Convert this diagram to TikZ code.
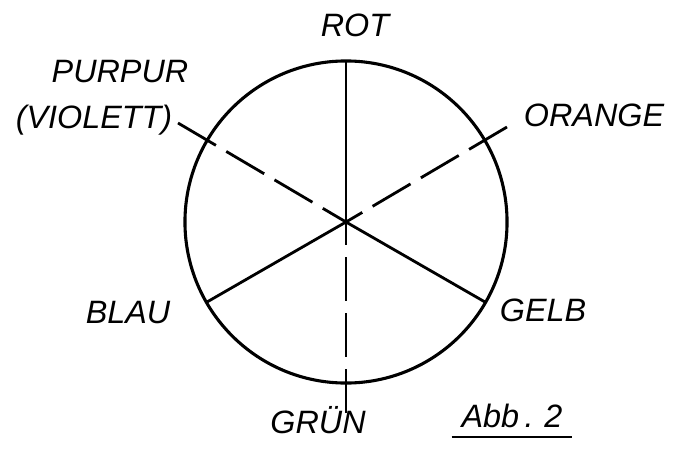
\documentclass[tikz,border=0pt]{standalone}
\usepackage{fontspec}
\setmainfont{Liberation Sans}
\usetikzlibrary{calc}
\tikzset{
  farbe/.style={font=\fontsize{23}{27}\selectfont\itshape, inner sep=1pt},
  achse/.style={line width=2pt},
  hilfslinie/.style={line width=2pt, dash pattern=on 11mm off 3mm}
}

\begin{document}
\begin{tikzpicture}[x=0.025cm,y=-0.025cm]
  \useasboundingbox (0,0) rectangle (689,454);
  \coordinate (m) at (346,222);
  \draw[line width=2.2pt] (m) circle[radius=4.025cm];
  % Farbnamen
  \node[farbe] (rot) at (355,25) {ROT};
  \node[farbe] (purpur) at (120,72) {PURPUR};
  \node[farbe] (violett) at (94,120) {(VIOLETT)};
  \node[farbe] (orange) at (594,115) {ORANGE};
  \node[farbe] (blau) at (128,313) {BLAU};
  \node[farbe] (gelb) at (543,310) {GELB};
  \node[farbe] (gruen) at (318,420) {GRÜN};
  \node[farbe] (abb) at (512,416) {Abb\,.\,\,2};
  \draw[line width=1.3pt] ([xshift=-6pt,yshift=-5pt]abb.south west) -- ([xshift=6pt,yshift=-5pt]abb.south east);
  % Enden der Linien
  \coordinate (rotend) at (346,61);
  \coordinate (blauend) at (207,302);
  \coordinate (gelbend) at (485,302);
  \coordinate (purpurend) at (178,123);
  \coordinate (orangeend) at (507,127);
  \coordinate (gruenend) at (346,413);
  \draw[achse] (m) -- (rotend);
  \draw[achse] (m) -- (blauend);
  \draw[achse] (m) -- (gelbend);
  \draw[hilfslinie] (purpurend) -- (m);
  \draw[hilfslinie] (orangeend) -- (m);
  \draw[hilfslinie] (gruenend) -- (m);
\end{tikzpicture}
\end{document}
